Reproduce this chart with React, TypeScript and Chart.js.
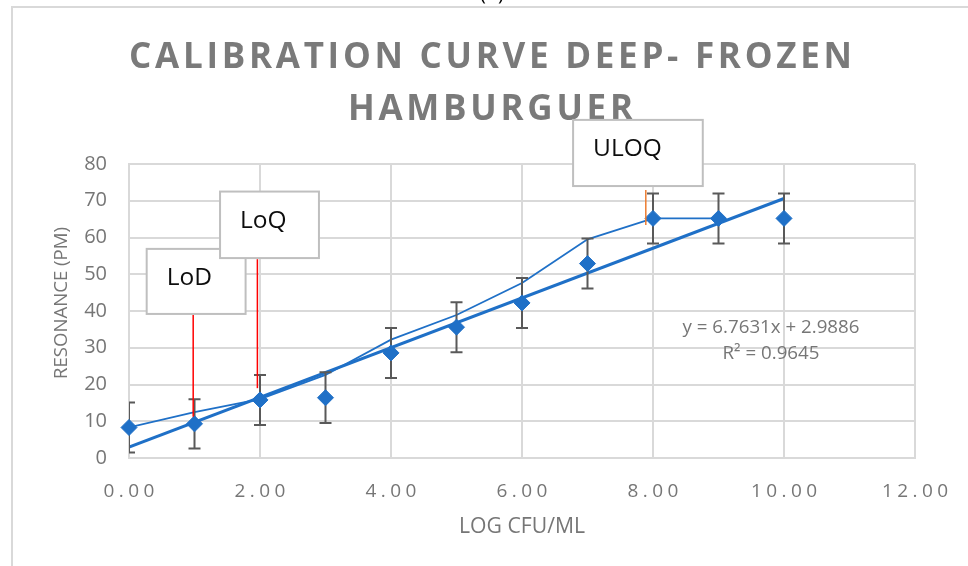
import { useEffect, useRef } from "react";
import { Chart, registerables } from "chart.js";

Chart.register(...registerables);

const FONT = "'Open Sans', 'Noto Sans', 'DejaVu Sans', sans-serif";
const TEXT_GRAY = "#767676";
const TITLE_GRAY = "#7a7a7a";
const BLUE = "#1f70c7";
const GRID = "#d9d9d9";

// Titles
const chartTitle = ["CALIBRATION CURVE DEEP- FROZEN", "HAMBURGUER"];
const xAxisTitle = "LOG CFU/ML";
const yAxisTitle = "RESONANCE (PM)";

// Measured points (mean ± error)
const logCfu = [0, 1, 2, 3, 4, 5, 6, 7, 8, 9, 10];
const resonance = [8.3, 9.3, 15.8, 16.4, 28.6, 35.6, 42.2, 52.9, 65.2, 65.2, 65.2];
const resonanceError = [6.8, 6.7, 6.8, 6.9, 6.8, 6.8, 6.8, 6.8, 6.8, 6.8, 6.8];

// Thin connecting series
const linkedLogCfu = [0, 1, 2, 3, 4, 5, 6, 7, 8, 9];
const linkedResonance = [8.3, 12.5, 16.0, 22.6, 32.2, 38.9, 47.6, 59.5, 65.2, 65.2];

// Linear trendline
const trendSlope = 6.7631;
const trendIntercept = 2.9886;
const trendR2 = 0.9645;
const trendRange = [0, 10];

// Axis ticks
const xTicks = [0, 2, 4, 6, 8, 10, 12];
const xTickLabels = ["0.00", "2.00", "4.00", "6.00", "8.00", "10.00", "12.00"];
const yTicks = [0, 10, 20, 30, 40, 50, 60, 70, 80];

// Limit callouts (LoD / LoQ / ULOQ)
const limitLabels = ["LoD", "LoQ", "ULOQ"];
const limitLogCfu = [0.98, 1.96, 7.89];
const limitLineTop = [38.9, 54.1, 72.9];
const limitLineBottom = [11.2, 19.0, 63.4];
const limitColors = ["#ff0000", "#ff0000", "#ed7d31"];
// callout boxes in data space: [xMin, xMax, yMin, yMax]
const limitBoxes = [
  [0.27, 1.78, 39.2, 56.9],
  [1.39, 2.9, 54.4, 72.5],
  [6.78, 8.76, 74.0, 92.0],
];

function drawSpaced(ctx: CanvasRenderingContext2D, text: string, cx: number, baseline: number, spacing: number) {
  const chars = Array.from(text);
  const widths = chars.map((c) => ctx.measureText(c).width);
  const total = widths.reduce((a, b) => a + b, 0) + spacing * (chars.length - 1);
  let x = cx - total / 2;
  ctx.textAlign = "left";
  ctx.textBaseline = "alphabetic";
  chars.forEach((c, i) => {
    ctx.fillText(c, x, baseline);
    x += widths[i] + spacing;
  });
}

function naturalWidth(ctx: CanvasRenderingContext2D, text: string) {
  return Array.from(text).reduce((a, c) => a + ctx.measureText(c).width, 0);
}

// pick a font size so that the text spans the requested width
function fitFont(ctx: CanvasRenderingContext2D, text: string, width: number, weight = "") {
  ctx.font = `${weight} 20px ${FONT}`;
  const w = ctx.measureText(text).width;
  const size = (20 * width) / w;
  ctx.font = `${weight} ${size.toFixed(2)}px ${FONT}`;
}

const decorations = {
  id: "decorations",
  beforeDraw(chart: any) {
    const { ctx } = chart;
    ctx.save();
    ctx.fillStyle = "#ffffff";
    ctx.fillRect(0, 0, chart.width, chart.height);
    ctx.strokeStyle = GRID;
    ctx.lineWidth = 2;
    ctx.strokeRect(12, 7, chart.width + 20, chart.height + 20);
    // caption peeking in at the top edge
    ctx.fillStyle = "#000";
    ctx.font = `20px ${FONT}`;
    ctx.textAlign = "center";
    ctx.textBaseline = "alphabetic";
    ctx.fillText("(b)", 492, 0);
    ctx.restore();
  },
  beforeDatasetDraw(chart: any, args: any) {
    if (args.index !== 0) return;
    const { ctx, chartArea } = chart;
    const x = chart.scales.x;
    const y = chart.scales.y;
    ctx.save();
    ctx.beginPath();
    ctx.rect(chartArea.left, 0, chart.width, chart.height);
    ctx.clip();
    ctx.strokeStyle = "#595959";
    ctx.lineWidth = 2;
    logCfu.forEach((v, i) => {
      const px = x.getPixelForValue(v);
      const top = y.getPixelForValue(resonance[i] + resonanceError[i]);
      const bot = y.getPixelForValue(resonance[i] - resonanceError[i]);
      ctx.beginPath();
      ctx.moveTo(px, top);
      ctx.lineTo(px, bot);
      ctx.moveTo(px - 6, top);
      ctx.lineTo(px + 6, top);
      ctx.moveTo(px - 6, bot);
      ctx.lineTo(px + 6, bot);
      ctx.stroke();
    });
    ctx.restore();
  },
  afterDraw(chart: any) {
    const { ctx, chartArea } = chart;
    const x = chart.scales.x;
    const y = chart.scales.y;
    ctx.save();

    // Title
    ctx.fillStyle = TITLE_GRAY;
    ctx.font = `bold 35px ${FONT}`;
    const line1 = chartTitle[0];
    const spacing = (723 - naturalWidth(ctx, line1)) / (Array.from(line1).length - 1);
    drawSpaced(ctx, line1, 490.5, 67.5, spacing);
    drawSpaced(ctx, chartTitle[1], 490.5, 120, spacing);

    // X tick labels
    ctx.fillStyle = TEXT_GRAY;
    ctx.font = `19px ${FONT}`;
    xTicks.forEach((v, i) => {
      drawSpaced(ctx, xTickLabels[i], x.getPixelForValue(v), 497, 4.4);
    });

    // Axis titles
    ctx.textAlign = "center";
    ctx.textBaseline = "middle";
    fitFont(ctx, xAxisTitle, 126);
    ctx.fillText(xAxisTitle, (chartArea.left + chartArea.right) / 2, 527);
    ctx.save();
    ctx.translate(62, 303);
    ctx.rotate(-Math.PI / 2);
    fitFont(ctx, yAxisTitle, 152);
    ctx.fillText(yAxisTitle, 0, 0);
    ctx.restore();

    // Trendline equation
    const eq = `y = ${trendSlope}x + ${trendIntercept}`;
    fitFont(ctx, eq, 177);
    ctx.textAlign = "center";
    ctx.textBaseline = "alphabetic";
    ctx.fillText(eq, 771, 333);
    ctx.fillText(`R² = ${trendR2}`, 771, 359);

    // Limit callouts
    limitLabels.forEach((label, i) => {
      const lx = x.getPixelForValue(limitLogCfu[i]);
      ctx.strokeStyle = limitColors[i];
      ctx.lineWidth = 1.5;
      ctx.beginPath();
      ctx.moveTo(lx, y.getPixelForValue(limitLineTop[i]));
      ctx.lineTo(lx, y.getPixelForValue(limitLineBottom[i]));
      ctx.stroke();
    });
    limitLabels.forEach((label, i) => {
      const [x0, x1, y0, y1] = limitBoxes[i];
      const left = x.getPixelForValue(x0);
      const right = x.getPixelForValue(x1);
      const top = y.getPixelForValue(y1);
      const bottom = y.getPixelForValue(y0);
      ctx.fillStyle = "#ffffff";
      ctx.fillRect(left, top, right - left, bottom - top);
      ctx.strokeStyle = "#bfbfbf";
      ctx.lineWidth = 2;
      ctx.strokeRect(left, top, right - left, bottom - top);
      ctx.fillStyle = "#0d0d0d";
      ctx.font = `24.5px ${FONT}`;
      ctx.textAlign = "left";
      ctx.textBaseline = "middle";
      ctx.fillText(label, left + 20, (top + bottom) / 2 - 3.5);
    });

    ctx.restore();
  },
};

export default function App() {
  const ref = useRef<HTMLCanvasElement>(null);

  useEffect(() => {
    const canvas = ref.current;
    if (!canvas) return;
    const chart = new Chart(canvas, {
      type: "scatter",
      data: {
        datasets: [
          {
            label: "Resonance",
            data: logCfu.map((v, i) => ({ x: v, y: resonance[i] })),
            showLine: false,
            pointStyle: "rectRot",
            pointRadius: 8,
            pointBackgroundColor: BLUE,
            pointBorderColor: BLUE,
            pointBorderWidth: 1,
            clip: false as any,
            order: 0,
          },
          {
            label: "Connected",
            data: linkedLogCfu.map((v, i) => ({ x: v, y: linkedResonance[i] })),
            showLine: true,
            borderColor: BLUE,
            borderWidth: 1.8,
            pointRadius: 0,
            order: 1,
          },
          {
            label: "Linear trend",
            data: trendRange.map((v) => ({ x: v, y: trendSlope * v + trendIntercept })),
            showLine: true,
            borderColor: BLUE,
            borderWidth: 3,
            pointRadius: 0,
            order: 2,
          },
        ],
      },
      options: {
        responsive: false,
        animation: false,
        devicePixelRatio: 1,
        layout: { padding: { left: 0, right: 53, top: 164, bottom: 0 } },
        plugins: {
          legend: { display: false },
          tooltip: { enabled: false },
          title: { display: false },
        },
        scales: {
          x: {
            type: "linear",
            min: xTicks[0],
            max: xTicks[xTicks.length - 1],
            afterBuildTicks: (scale: any) => {
              scale.ticks = xTicks.map((v) => ({ value: v }));
            },
            afterFit: (scale: any) => {
              scale.height = 108;
            },
            ticks: { display: false },
            grid: { color: GRID, lineWidth: 2, drawTicks: false },
            border: { display: true, color: GRID, width: 2 },
          },
          y: {
            type: "linear",
            min: yTicks[0],
            max: yTicks[yTicks.length - 1],
            afterBuildTicks: (scale: any) => {
              scale.ticks = yTicks.map((v) => ({ value: v }));
            },
            afterFit: (scale: any) => {
              scale.width = 129;
            },
            ticks: {
              color: TEXT_GRAY,
              padding: 22,
              font: { family: FONT, size: 20 },
            },
            grid: { color: GRID, lineWidth: 2, drawTicks: false },
            border: { display: true, color: GRID, width: 2 },
          },
        },
      },
      plugins: [decorations],
    });
    return () => chart.destroy();
  }, []);

  return (
    <div style={{ position: "absolute", left: 0, top: 0, width: 968, height: 566, background: "#fff" }}>
      <canvas ref={ref} width={968} height={566} style={{ display: "block" }} />
    </div>
  );
}
